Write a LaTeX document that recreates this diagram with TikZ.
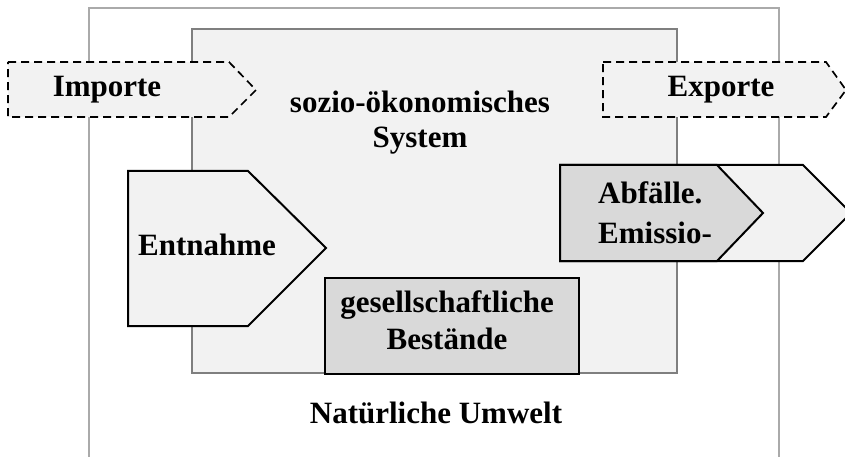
\documentclass[tikz,border=0pt]{standalone}
\usepackage{fontspec}
\setmainfont{Liberation Serif}
\definecolor{outerline}{HTML}{AAAAAA}
\definecolor{innerline}{HTML}{7F7F7F}
\definecolor{lightfill}{HTML}{F2F2F2}
\definecolor{darkfill}{HTML}{D9D9D9}
\tikzset{
  lbl/.style={font=\fontsize{31}{38}\selectfont\bfseries, inner sep=0pt, anchor=base},
  blk/.style={draw=black, line width=2pt, line join=miter},
  dsh/.style={draw=black, line width=1.7pt, dash pattern=on 8pt off 5pt},
}
\begin{document}
\begin{tikzpicture}[x=1pt,y=-1pt]
\useasboundingbox (0,0) rectangle (845,457);
% outer frame (open at bottom)
\draw[outerline, line width=2.4pt] (89,470) -- (89,8) -- (779,8) -- (779,470);
% inner system box
\draw[innerline, line width=2.4pt, fill=lightfill] (192,29) rectangle (677,373);
% Importe
\path[dsh, fill=lightfill] (8,62) -- (229,62) -- (256,90) -- (229,117) -- (8,117) -- cycle;
% Exporte
\path[dsh, fill=lightfill] (603,62) -- (826,62) -- (846,90) -- (826,117) -- (603,117) -- cycle;
% Entnahme
\path[blk, fill=lightfill] (128,171) -- (248,171) -- (326,248) -- (248,326) -- (128,326) -- cycle;
% Abfaelle arrows
\path[blk, fill=lightfill] (560,165) -- (803,165) -- (851,213) -- (803,261) -- (560,261) -- cycle;
\path[blk, fill=darkfill] (560,165) -- (717,165) -- (763,213) -- (717,261) -- (560,261) -- cycle;
% gesellschaftliche Bestaende
\path[blk, fill=darkfill] (325,278) rectangle (579,374);
% texts
\node[lbl] (imp) at (107,97) {Importe};
\node[lbl] (exp) at (721,97) {Exporte};
\node[lbl] (soz1) at (420,113) {sozio-ökonomisches};
\node[lbl] (soz2) at (420,148) {System};
\node[lbl, anchor=base west] (ent) at (138,255) {Entnahme};
\node[lbl, anchor=base west] (abf1) at (598,203) {Abfälle.};
\node[lbl, anchor=base west] (abf2) at (598,243) {Emissio-};
\node[lbl] (ges1) at (447,312) {gesellschaftliche};
\node[lbl] (ges2) at (447,349) {Bestände};
\node[lbl] (nat) at (436,423) {Natürliche Umwelt};
\end{tikzpicture}
\end{document}
